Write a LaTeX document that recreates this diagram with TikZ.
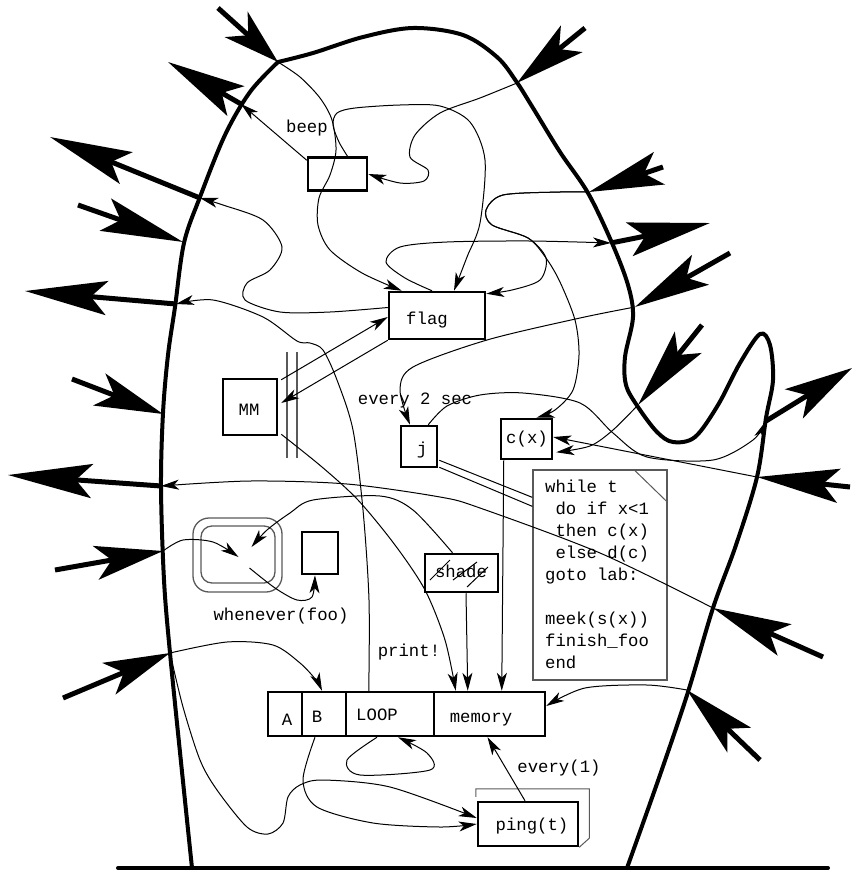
\documentclass[tikz,border=0pt]{standalone}
\usepackage{fontspec}
\newfontfamily\codefont{Liberation Mono}
\usetikzlibrary{arrows.meta,calc}
\begin{document}
\begin{tikzpicture}[x=1pt,y=-1pt,
  rim/.style={line width=4pt, line cap=round, line join=round},
  spike/.style={line width=5pt, -{Stealth[length=#1,width=34pt,inset=16pt]}},
  spike/.default=74pt,
  wire/.style={line width=1pt, -{Stealth[length=18pt,width=10pt,inset=5pt]}},
  thinline/.style={line width=1pt},
  boxed/.style={draw, line width=2.5pt, inner sep=0pt},
  grayline/.style={draw=black!65, line width=1.3pt},
  txt/.style={font=\codefont\fontsize{17.3}{22}\selectfont, inner sep=0pt, anchor=base},
]
\useasboundingbox (0,0) rectangle (858,873);

% ---------- the cactus outline and the ground ----------
\coordinate (g1) at (118,868);
\coordinate (g2) at (828,868);
\draw[rim] (g1) -- (g2);
\draw[rim] plot[smooth, tension=0.55] coordinates {
  (192,868) (181,762) (170,653) (164,580) (161,487) (163,413) (168,355)
  (175,307) (184,243) (200,197) (225,135) (250,92) (278,62)};
\draw[rim] plot[smooth, tension=0.55] coordinates {
  (278,62) (313,53) (363,37) (413,28) (463,35) (497,57) (516,81) (533,108)
  (560,152) (588,193) (612,243) (628,285) (633,317) (625,357) (626,385)
  (638,407) (657,432) (673,442) (695,437) (718,405) (740,363) (760,334)
  (770,345) (773,380) (766,418) (757,477) (736,545) (713,608) (688,692)
  (660,775) (627,868)};

% ---------- points on the rim ----------
\coordinate (oA) at (278,62);
\coordinate (oB) at (241,104);
\coordinate (oC) at (517,83);
\coordinate (oD) at (200,198);
\coordinate (oE) at (183,242);
\coordinate (oF) at (176,304);
\coordinate (oG) at (163,414);
\coordinate (oH) at (161,486);
\coordinate (oI) at (163,551);
\coordinate (oJ) at (170,653);
\coordinate (oK) at (687,690);
\coordinate (oL) at (713,608);
\coordinate (oM) at (757,477);
\coordinate (oN) at (766,421);
\coordinate (oa) at (589,192);
\coordinate (ob) at (611,243);
\coordinate (oc) at (635,307);
\coordinate (od) at (638,405);

% ---------- outer ends of the spikes ----------
\coordinate (t1) at (218,8);
\coordinate (t2) at (168,62);
\coordinate (t3) at (585,28);
\coordinate (t4) at (50,137);
\coordinate (t5) at (78,205);
\coordinate (t6) at (25,291);
\coordinate (t7) at (72,379);
\coordinate (t8) at (8,475);
\coordinate (t9) at (55,570);
\coordinate (t10) at (63,698);
\coordinate (t11) at (760,760);
\coordinate (t12) at (823,657);
\coordinate (t13) at (850,487);
\coordinate (t14) at (852,368);
\coordinate (ta) at (663,167);
\coordinate (tb) at (710,223);
\coordinate (tc) at (730,253);
\coordinate (td) at (702,325);

\draw[spike=56pt] (t1) -- (oA);
\draw[spike=78pt] (oB) -- (t2);
\draw[spike=70pt] (t3) -- (oC);
\draw[spike=82pt] (oD) -- (t4);
\draw[spike=82pt] (t5) -- (oE);
\draw[spike=82pt] (oF) -- (t6);
\draw[spike=68pt] (t7) -- (oG);
\draw[spike=84pt] (oH) -- (t8);
\draw[spike=68pt] (t9) -- (oI);
\draw[spike=66pt] (t10) -- (oJ);
\draw[spike=72pt] (t11) -- (oK);
\draw[spike=78pt] (t12) -- (oL);
\draw[spike=82pt] (t13) -- (oM);
\draw[spike=68pt] (oN) -- (t14);
\draw[spike=74pt] (ta) -- (oa);
\draw[spike=82pt] (ob) -- (tb);
\draw[spike=75pt] (tc) -- (oc);
\draw[spike=80pt] (td) -- (od);

% ---------- boxes ----------
\node[boxed, minimum width=59pt, minimum height=33pt] (beep) at (337.5,174) {};
\node[boxed, minimum width=96pt, minimum height=47pt] (flag) at (437,315.5) {};
\node[boxed, minimum width=54pt, minimum height=56pt] (MM) at (250,407) {};
\node[boxed, minimum width=36pt, minimum height=41pt] (j) at (419,446.5) {};
\node[boxed, minimum width=51pt, minimum height=40pt] (cx) at (526.5,439) {};
\node[draw=black!65, line width=1.3pt, inner sep=0pt, minimum width=134pt, minimum height=210pt] (while) at (600,575) {};
\node[draw=black!65, line width=1.3pt, inner sep=0pt, rounded corners=16pt, minimum width=89pt, minimum height=74pt] (rrOut) at (237.5,555) {};
\node[draw=black!65, line width=1.3pt, inner sep=0pt, rounded corners=11pt, minimum width=74pt, minimum height=57pt] (rrIn) at (238,554.5) {};
\node[boxed, minimum width=36pt, minimum height=42pt] (small) at (320,553) {};
\node[boxed, minimum width=73pt, minimum height=38pt] (shade) at (461.5,573) {};
\node[boxed, minimum width=34pt, minimum height=44pt] (A) at (285,714) {};
\node[boxed, minimum width=44pt, minimum height=44pt] (B) at (324,714) {};
\node[boxed, minimum width=88pt, minimum height=44pt] (LOOP) at (390,714) {};
\node[boxed, minimum width=111pt, minimum height=44pt] (memory) at (489.5,714) {};
\node[boxed, minimum width=100pt, minimum height=44pt] (ping) at (528,824) {};

% dog-ear of the code sheet
\draw[draw=black!65, line width=1pt] ($(while.north east)+(-34,0)$) -- ($(while.north east)+(0,33)$);
% back face of the ping box
\draw[draw=black!65, line width=1pt] ($(ping.north west)+(-1,-4)$) -- ($(ping.north west)+(-1,-12)$)
  -- ($(ping.north east)+(10,-12)$) -- ($(ping.south east)+(10,-9)$) -- (ping.south east);
% hatching on the shade box
\draw[thinline] (430,580) -- (450,560);
\draw[thinline] (453,580) -- (477,562);
\draw[thinline] (467,587) -- (488,567);
% the double bar between MM and flag
\draw[grayline] (287,352) -- (287,458);
\draw[grayline] (297,352) -- (297,458);

% ---------- anchor points for the wires ----------
\coordinate (fA) at ($(flag.north west)+(14,0)$);
\coordinate (bT) at ($(beep.north)+(10,0)$);
\coordinate (fB) at ($(flag.north)+(17,0)$);
\coordinate (bC) at ($(beep.north west)+(0,4)$);
\coordinate (fF) at ($(flag.north)+(-5,0)$);
\coordinate (fG) at ($(flag.north east)+(0,3)$);
\coordinate (cH) at ($(cx.north)+(10,0)$);
\coordinate (fI) at ($(flag.west)+(0,-8)$);
\coordinate (jN) at ($(j.north)+(-9,0)$);
\coordinate (jK) at ($(j.north east)+(-10,0)$);
\coordinate (jL1) at ($(j.south east)+(1,-8)$);
\coordinate (jL2) at ($(j.south east)+(1,-1)$);
\coordinate (wL1) at ($(while.north west)+(0,28)$);
\coordinate (wL2) at ($(while.north west)+(0,37)$);
\coordinate (cM) at ($(cx.south west)+(4,0)$);
\coordinate (mM) at ($(memory.north west)+(69,0)$);
\coordinate (sP) at ($(shade.north)+(-9,0)$);
\coordinate (rrP) at ($(rrOut.center)+(14,-8)$);
\coordinate (rrQ) at ($(rrOut.center)+(1,2)$);
\coordinate (rrR) at ($(rrOut.center)+(12,13)$);
\coordinate (smallR) at ($(small.south)+(-5,0)$);
\coordinate (bZ) at ($(B.north)+(-2,0)$);
\coordinate (pCC) at ($(ping.west)+(0,-6)$);
\coordinate (bBB) at ($(B.south)+(-9,0)$);
\coordinate (lA) at ($(LOOP.south)+(-13,0)$);
\coordinate (lB) at ($(LOOP.south)+(8,0)$);
\coordinate (pD) at ($(ping.north)+(-3,0)$);
\coordinate (mD) at ($(memory.south)+(-2,0)$);
\coordinate (mF) at ($(memory.east)+(0,-8)$);
\coordinate (cxE) at ($(cx.east)+(0,-2)$);
\coordinate (cxF) at ($(cx.south east)+(3,-8)$);
\coordinate (lX) at ($(LOOP.north west)+(24,0)$);
\coordinate (mmW) at ($(MM.south east)+(3,-2)$);
\coordinate (mW) at ($(memory.north west)+(23,0)$);
\coordinate (sV) at ($(shade.south)+(4.5,0)$);
\coordinate (mV) at ($(memory.north west)+(35,0)$);
\coordinate (mmA) at ($(MM.north east)+(3,2)$);
\coordinate (fMa) at ($(flag.west)+(0,1.5)$);
\coordinate (mmB) at ($(MM.east)+(3,-4)$);

% ---------- wires ----------
\draw[wire] plot[smooth] coordinates {(oA) (300,77) (320,98) (332,120) (336,150) (330,175) (319,198) (318,225) (330,250) (362,273) (fA)};
\draw[wire] plot[smooth] coordinates {(bT) (339,142) (333,125) (337,113) (355,108) (400,105) (440,106) (470,122) (485,160) (480,223) (467,257) (fB)};
\draw[wire] (bC) -- (oB);
\draw[wire] plot[smooth] coordinates {(oC) (480,98) (440,113) (415,135) (410,157) (428,170) (424,181) (400,183) (beep.east)};
\draw[wire] plot[smooth] coordinates {(fF) (405,278) (386,262) (400,247) (447,242) (530,241) (ob)};
\draw[wire] plot[smooth] coordinates {(oa) (560,192) (503,195) (486,210) (492,225) (528,238) (546,258) (540,280) (512,290) (fG)};
\draw[wire] plot[smooth] coordinates {(oa) (560,192) (503,195) (486,210) (492,225) (528,238) (546,258) (560,282) (575,320) (579,355) (573,390) (555,410) (cH)};
\draw[wire] plot[smooth] coordinates {(fI) (330,312) (280,312) (245,300) (247,283) (270,270) (282,247) (263,220) (223,205) (oD)};
\draw[wire] plot[smooth] coordinates {(oc) (580,318) (487,340) (413,367) (400,390) (jN)};
\draw[wire] plot[smooth] coordinates {(jK) (447,406) (480,395) (523,393) (580,403) (613,433) (647,457) (713,460) (753,440) (oN)};
\draw[thinline] (jL1) -- (wL1);
\draw[thinline] (jL2) -- (wL2);
\draw[wire] (cM) -- (mM);
\draw[wire] plot[smooth] coordinates {(oL) (600,553) (480,508) (440,497) (347,484) (250,481) (oH)};
\draw[wire] plot[smooth] coordinates {(sP) (413,510) (380,496) (313,500) (290,513) (267,530) (rrP)};
\draw[wire] plot[smooth] coordinates {(oI) (183,540) (213,542) (rrQ)};
\draw[wire] plot[smooth] coordinates {(rrR) (275,588) (297,600) (312,597) (smallR)};
\draw[wire] plot[smooth] coordinates {(oJ) (227,642) (273,645) (300,663) (316,680) (bZ)};
\draw[wire] plot[smooth] coordinates {(oJ) (183,707) (200,760) (217,790) (247,827) (268,834) (283,823) (288,797) (300,785) (323,780) (390,787) (pCC)};
\draw[wire] plot[smooth] coordinates {(bBB) (303,780) (317,807) (373,823) (440,827) (ping.west)};
\draw[wire] plot[smooth] coordinates {(lA) (347,760) (360,775) (430,770) (427,753) (lB)};
\draw[wire] (pD) -- (mD);
\draw[wire] plot[smooth] coordinates {(oK) (647,685) (585,688) (mF)};
\draw[wire] (oM) -- (cxE);
\draw[wire] plot[smooth] coordinates {(od) (613,430) (590,446) (cxF)};
\draw[wire] plot[smooth] coordinates {(lX) (369,600) (363,510) (353,430) (337,380) (323,350) (310,343) (297,341) (263,317) (213,300) (oF)};
\draw[wire] plot[smooth] coordinates {(mmW) (322,467) (358,500) (395,545) (425,590) (445,640) (mW)};
\draw[wire] (sV) -- (mV);
\draw[wire] (mmA) -- (fMa);
\draw[wire] (flag.south west) -- (mmB);

% ---------- texts ----------
\node[txt] (tBeep) at (307,132) {beep};
\node[txt] (tFlag) at (427,324) {flag};
\node[txt] (tMM) at (249,415) {MM};
\node[txt] (tEvery) at (415,404) {every 2 sec};
\node[txt] (tJ) at (422,454) {j};
\node[txt] (tCx) at (527,443) {c(x)};
\node[txt] (tShade) at (461,577) {shade};
\node[txt] (tWhen) at (281,620) {whenever(foo)};
\node[txt] (tPrint) at (409,656) {print!};
\node[txt] (tEv1) at (559,772) {every(1)};
\node[txt] (tPing) at (532,830) {ping(t)};
\node[txt] (tA) at (287,725) {A};
\node[txt] (tB) at (317,722) {B};
\node[txt] (tLoop) at (377,720) {LOOP};
\node[txt] (tMem) at (481,722) {memory};
\node[txt, anchor=north west, align=left] (code) at (545,480)
  {while t\\\phantom{x}do if x<1\\\phantom{x}then c(x)\\\phantom{x}else d(c)\\goto lab:\\[22pt]meek(s(x))\\finish\_foo\\end};
\end{tikzpicture}
\end{document}
